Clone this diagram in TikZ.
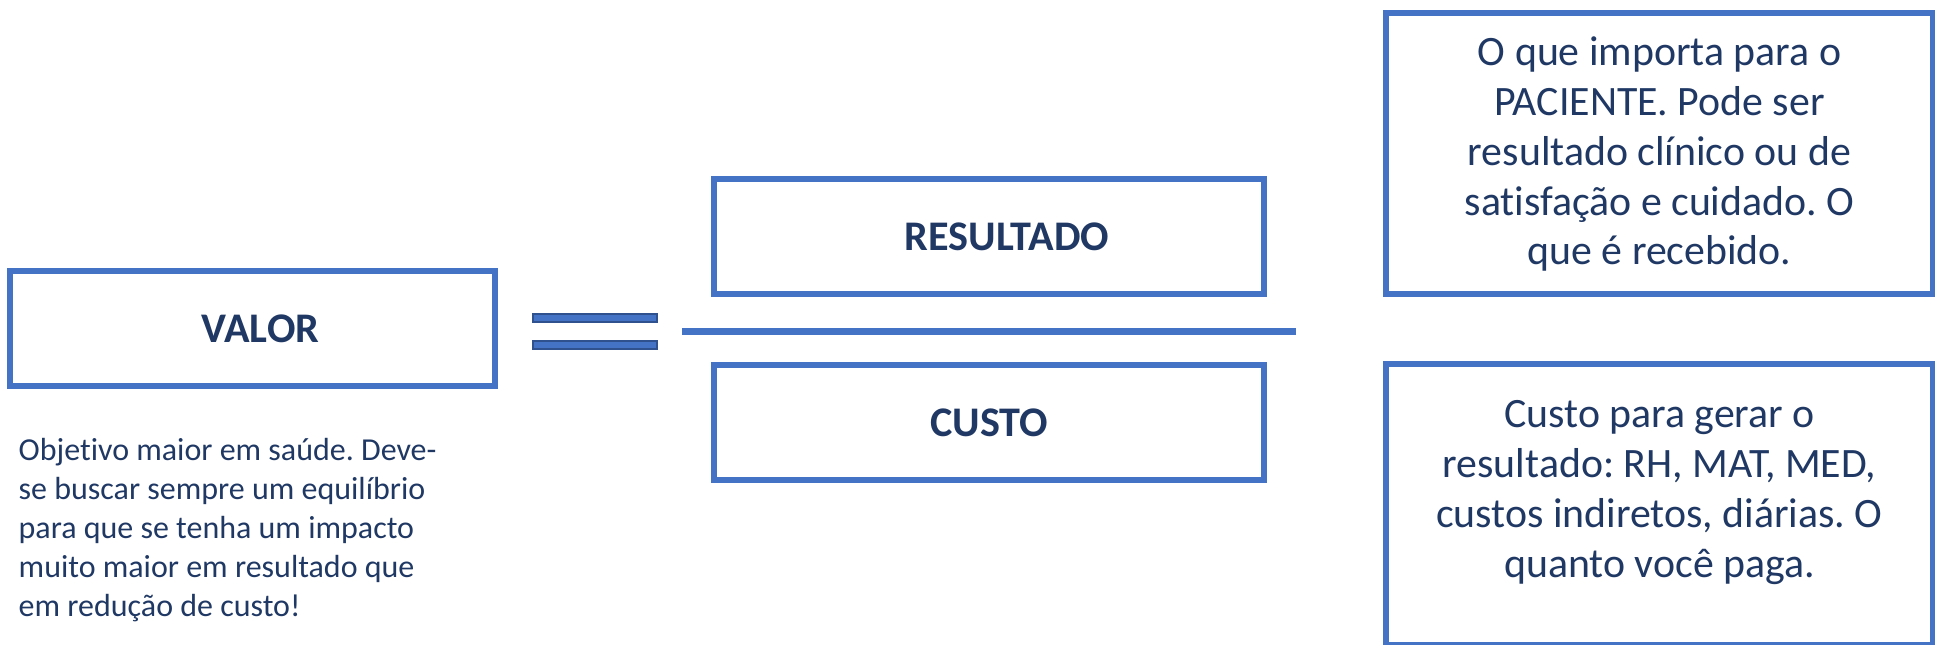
\documentclass[tikz,border=0pt]{standalone}
\usepackage{fontspec}
\setmainfont{Carlito}[Ligatures=NoCommon]
\definecolor{boxblue}{HTML}{4472C4}
\definecolor{bardark}{HTML}{2F528F}
\definecolor{textnavy}{HTML}{1F3864}
\tikzset{
  box/.style={draw=boxblue,line width=1.7pt,minimum width=5.5cm,minimum height=1.15cm,inner sep=0pt,text=textnavy,font=\fontsize{12}{14.4}\selectfont\bfseries},
  notebox/.style={draw=boxblue,line width=1.7pt,minimum width=5.47cm,minimum height=2.81cm,inner sep=0pt},
  note/.style={text=textnavy,align=center,inner sep=0pt,anchor=base,font=\frenchspacing\fontsize{11.9}{14.2}\selectfont},
}

\begin{document}
\begin{tikzpicture}
        \useasboundingbox (0,0) rectangle (19.35,6.45);

        % Valor
        \node[box,minimum width=4.85cm] (valor) at (2.525,3.165) {\hspace*{0.16cm}VALOR};
        \node[anchor=base west,align=left,inner sep=0pt,text=textnavy,font=\frenchspacing\fontsize{9.1}{11.1}\selectfont] (objetivo) at (0.18,0.28) {Objetivo maior em saúde. Deve-\\se buscar sempre um equilíbrio\\para que se tenha um impacto\\muito maior em resultado que\\em redução de custo!};

        % Equal sign
        \draw[fill=boxblue,draw=bardark,line width=0.6pt] (5.33,3.31) rectangle (6.57,3.23);
        \draw[fill=boxblue,draw=bardark,line width=0.6pt] (5.33,3.04) rectangle (6.57,2.96);

        % Resultado / Custo
        \node[box] (resultado) at (9.89,4.085) {\hspace*{0.36cm}RESULTADO};
        \draw[boxblue,line width=2pt] (6.82,3.135) -- (12.96,3.135);
        \node[box] (custo) at (9.89,2.225) {CUSTO};

        % Notes
        \node[notebox] (resBox) at (16.595,4.915) {};
        \node[note] (resNote) at ([yshift=-2.55cm]resBox.north) {O que importa para o\\PACIENTE. Pode ser\\resultado clínico ou de\\satisfação e cuidado. O\\que é recebido.};
        \node[notebox] (custoBox) at (16.595,1.405) {};
        \node[note] (custoNote) at ([yshift=-2.16cm]custoBox.north) {Custo para gerar o\\resultado: RH, MAT, MED,\\custos indiretos, diárias. O\\quanto você paga.};
\end{tikzpicture}
\end{document}
